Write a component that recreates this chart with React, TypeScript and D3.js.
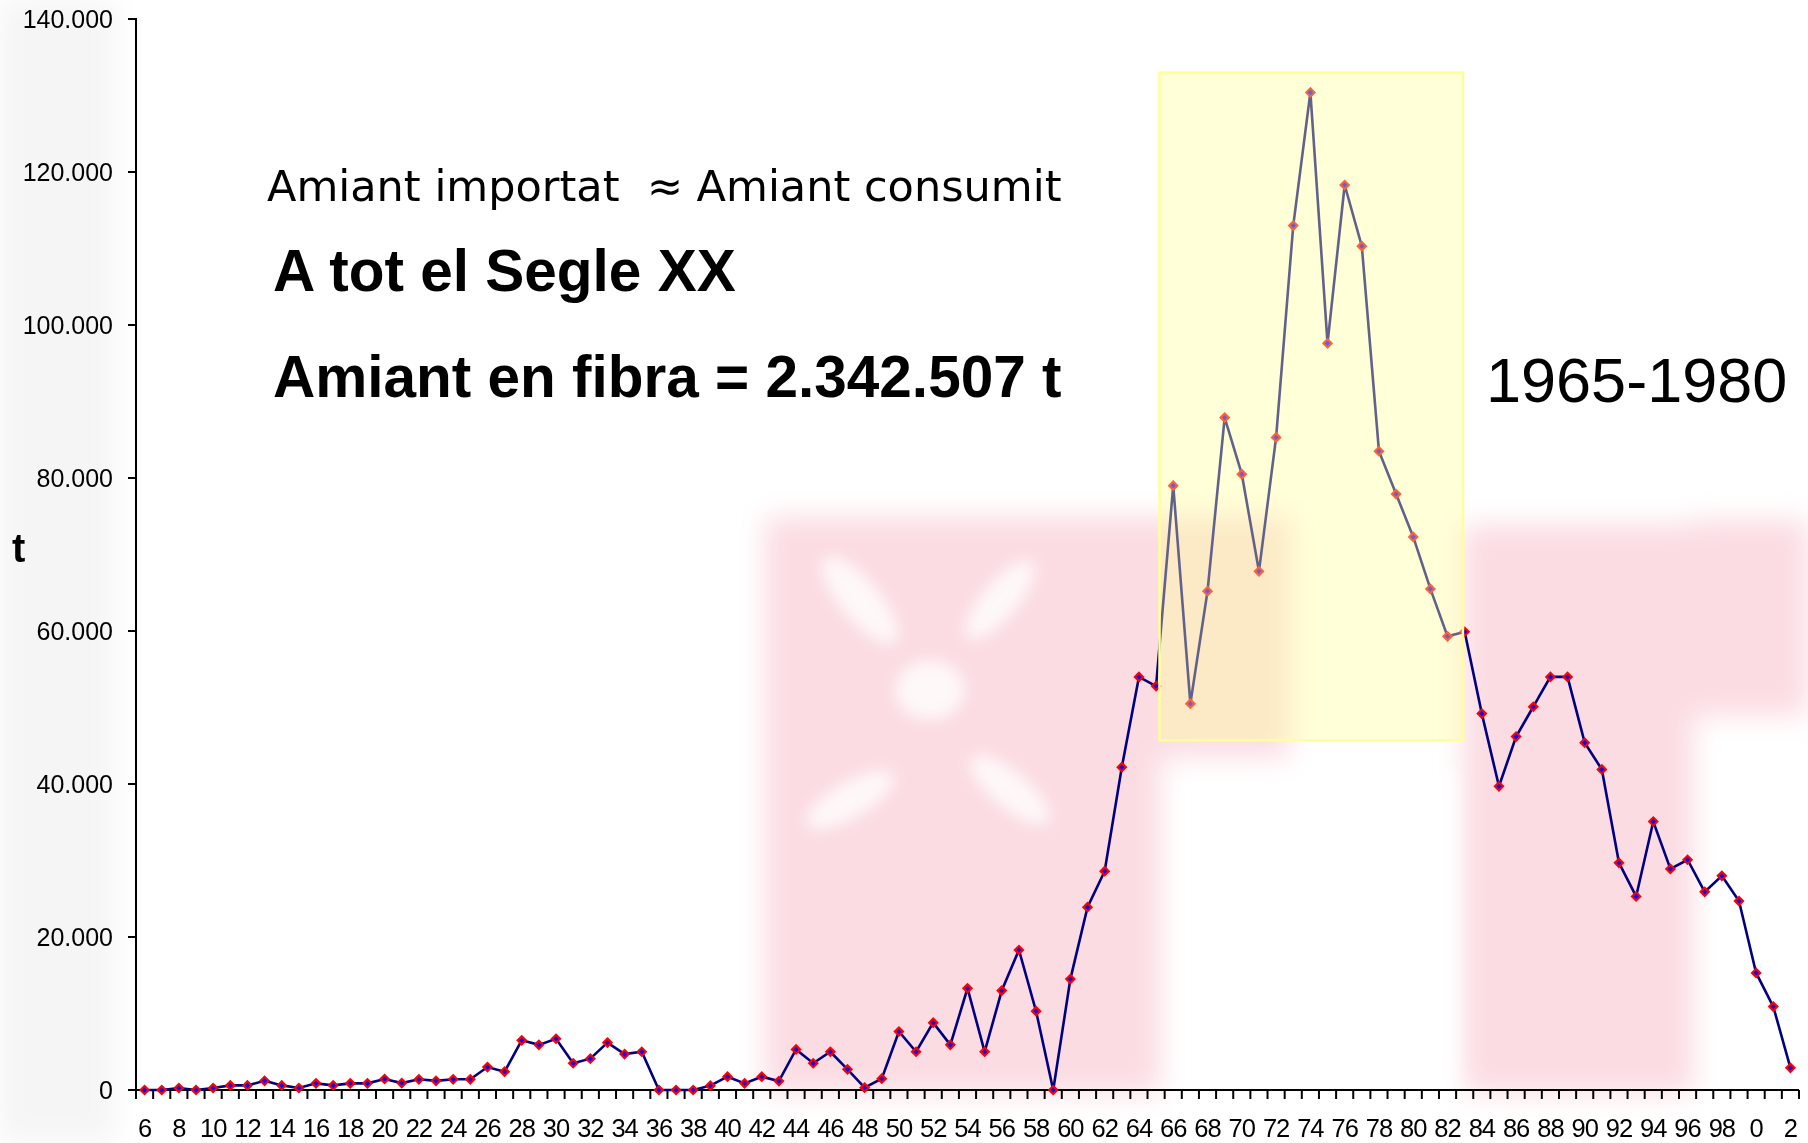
import React from "react";
import * as d3 from "d3";

const startYear = 1906;
const endYear = 2002;
const years = d3.range(startYear, endYear + 1);

// imported asbestos, thousands of tonnes, 1906..2002
const valuesK = [
  0, 0, 0.26, 0, 0.26, 0.6, 0.6, 1.2, 0.6, 0.26,
  0.87, 0.6, 0.87, 0.87, 1.44, 0.9, 1.4, 1.2, 1.4, 1.4,
  3.0, 2.4, 6.5, 5.9, 6.7, 3.5, 4.1, 6.2, 4.7, 5.0,
  0, 0, 0, 0.57, 1.74, 0.87, 1.74, 1.17, 5.3, 3.5,
  5.0, 2.7, 0.3, 1.48, 7.65, 5.0, 8.8, 5.9, 13.3, 5.0,
  13.0, 18.3, 10.3, 0, 14.5, 23.9, 28.6, 42.2, 54.0, 52.8,
  79.0, 50.5, 65.2, 87.9, 80.5, 67.8, 85.3, 113.0, 130.4, 97.6,
  118.3, 110.3, 83.5, 77.9, 72.3, 65.5, 59.3, 59.9, 49.2, 39.7,
  46.2, 50.1, 54.0, 54.0, 45.4, 41.9, 29.7, 25.3, 35.1, 28.9,
  30.1, 25.9, 28.0, 24.7, 15.3, 10.9, 2.9,
];
const values = valuesK.map((v) => v * 1000);

const yTicks = [0, 20000, 40000, 60000, 80000, 100000, 120000, 140000];
const xLabelYears = years.filter((y) => (y - startYear) % 2 === 0);

const highlightYears = [1965.2, 1982.9];
const highlightValues = [45700, 133000];
const highlightLabel = "1965-1980";

const line1 = "Amiant importat  \u2248 Amiant consumit";
const line2 = "A tot el Segle XX";
const line3 = "Amiant en fibra = 2.342.507 t";
const yAxisTitle = "t";

const W = 1808;
const H = 1143;
const plotLeft = 136;
const plotRight = 1799;
const plotTop = 19;
const plotBottom = 1090;

export default function App() {
  const x = d3
    .scaleLinear()
    .domain([startYear - 0.5, endYear + 0.5])
    .range([plotLeft, plotRight]);
  const y = d3.scaleLinear().domain([0, 140000]).range([plotBottom, plotTop]);
  const fmt = d3.formatLocale({ decimal: ",", thousands: ".", grouping: [3], currency: ["", ""] }).format(",");

  const lineGen = d3
    .line<number>()
    .x((_, i) => x(years[i]))
    .y((d) => y(d));

  const diamond = (cx: number, cy: number, r: number) =>
    `M${cx},${cy - r}L${cx + r},${cy}L${cx},${cy + r}L${cx - r},${cy}Z`;

  const boundaries = d3.range(startYear - 0.5, endYear + 1, 1);

  const bx0 = x(highlightYears[0]);
  const bx1 = x(highlightYears[1]);
  const by0 = y(highlightValues[1]);
  const by1 = y(highlightValues[0]);

  const pink = "#fbdce2";

  return (
    <svg
      width={W}
      height={H}
      style={{ position: "absolute", left: 0, top: 0, background: "#fff" }}
      fontFamily="'Liberation Sans', Arial, sans-serif"
    >
      <defs>
        <filter id="blur" x="-10%" y="-10%" width="120%" height="120%">
          <feGaussianBlur stdDeviation="14" />
        </filter>
        <filter id="blur2" x="-10%" y="-10%" width="120%" height="120%">
          <feGaussianBlur stdDeviation="8" />
        </filter>
      </defs>
      <rect x={0} y={0} width={W} height={H} fill="#fff" />
      {/* watermark */}
      <g filter="url(#blur)">
        <rect x={0} y={0} width={115} height={H} fill="#f5f5f5" />
        <rect x={765} y={517} width={335} height={576} fill={pink} />
        <rect x={1100} y={517} width={190} height={240} fill={pink} />
        <rect x={1100} y={740} width={60} height={353} fill={pink} />
        <rect x={1463} y={525} width={230} height={568} fill={pink} />
        <rect x={1690} y={520} width={118} height={195} fill={pink} />
      </g>
      <g filter="url(#blur2)" fill="#fff" opacity={0.8}>
        <ellipse cx={930} cy={690} rx={35} ry={30} />
        <ellipse cx={860} cy={600} rx={20} ry={55} transform="rotate(-40 860 600)" />
        <ellipse cx={1000} cy={600} rx={18} ry={50} transform="rotate(40 1000 600)" />
        <ellipse cx={850} cy={800} rx={18} ry={50} transform="rotate(60 850 800)" />
        <ellipse cx={1010} cy={790} rx={18} ry={50} transform="rotate(-50 1010 790)" />
        <rect x={1295} y={770} width={160} height={330} />
      </g>

      {/* axes */}
      <g stroke="#000" strokeWidth={2}>
        <line x1={plotLeft} x2={plotLeft} y1={plotTop - 1} y2={plotBottom + 9} />
        <line x1={plotLeft - 8} x2={plotRight} y1={plotBottom} y2={plotBottom} />
        {yTicks.map((t) => (
          <line key={t} x1={plotLeft - 8} x2={plotLeft} y1={y(t)} y2={y(t)} />
        ))}
        {boundaries.map((b) => (
          <line key={b} x1={x(b)} x2={x(b)} y1={plotBottom} y2={plotBottom + 9} />
        ))}
      </g>
      <g fontSize={25} fill="#000">
        {yTicks.map((t) => (
          <text key={t} x={113} y={y(t)} dy="0.35em" textAnchor="end">
            {fmt(t)}
          </text>
        ))}
      </g>
      <g fontSize={25.5} fill="#000" letterSpacing={-1}>
        {xLabelYears.map((yr) => (
          <text key={yr} x={x(yr)} y={1137} textAnchor="middle">
            {String(yr % 100)}
          </text>
        ))}
      </g>
      <text x={12} y={562} fontSize={40} fontWeight="bold" fill="#000">
        {yAxisTitle}
      </text>

      {/* series */}
      <path d={lineGen(values) || ""} fill="none" stroke="#000080" strokeWidth={2.6} />
      {values.map((v, i) => (
        <g key={i}>
          <path d={diamond(x(years[i]), y(v), 5.6)} fill="#ff0000" />
          <path d={diamond(x(years[i]), y(v), 2.6)} fill="#0000ff" />
        </g>
      ))}

      {/* highlight box */}
      <rect x={bx0} y={by0} width={bx1 - bx0} height={by1 - by0} fill="#ffff99" fillOpacity={0.38} />
      <rect
        x={bx0}
        y={by0}
        width={bx1 - bx0}
        height={by1 - by0}
        fill="none"
        stroke="#ffff99"
        strokeWidth={2.5}
      />
      <text x={1486} y={402} fontSize={63} fill="#000">
        {highlightLabel}
      </text>

      {/* annotations */}
      <text
        x={267}
        y={201}
        fontSize={43}
        fontFamily="'DejaVu Sans', Verdana, sans-serif"
        fill="#000"
        style={{ whiteSpace: "pre" }}
      >
        {line1}
      </text>
      <text x={273} y={291} fontSize={58.5} fontWeight="bold" fill="#000">
        {line2}
      </text>
      <text x={273} y={397} fontSize={58.5} fontWeight="bold" fill="#000">
        {line3}
      </text>
    </svg>
  );
}
